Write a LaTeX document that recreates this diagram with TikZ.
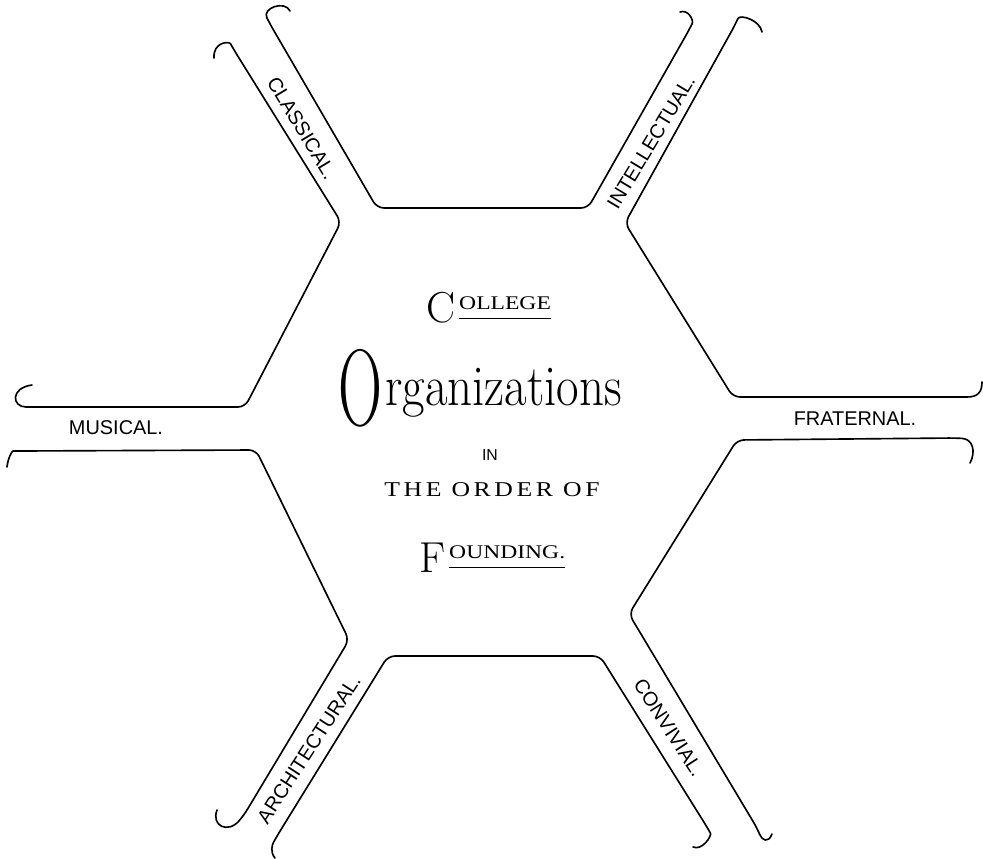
\documentclass[tikz,border=0pt]{standalone}
\usepackage{fontspec}
\usepackage{graphicx}
\newfontfamily\armfont{Liberation Sans}
\newfontfamily\capfont{Liberation Serif}
\newfontfamily\spacedfont[LetterSpace=14]{Liberation Serif}

\begin{document}
\begin{tikzpicture}[
    x=0.3mm, y=-0.3mm,
    wall/.style={line width=1.4pt, line cap=round, line join=round, rounded corners=6pt},
    arm/.style={font=\armfont\fontsize{17}{17}\selectfont, inner sep=0pt},
    head/.style={font=\capfont\fontsize{16.5}{16.5}\selectfont, inner sep=0pt},
    swash/.style={font=\fontsize{37}{37}\selectfont, inner sep=0pt},
    rule/.style={line width=0.6pt}
]
\useasboundingbox (0,0) rectangle (983,859);

% walls of the six channels
\draw[wall] (290,11) .. controls (285,0) and (262,8) .. (270,24)
  -- (377,208) -- (588,208) -- (689,30) .. controls (694,20) and (688,9) .. (680,12);
\draw[wall] (214,58) .. controls (213,42) and (229,41) .. (234,50)
  -- (341,222) -- (245,407) -- (33,407) .. controls (12,407) and (10,388) .. (32,385);
\draw[wall] (762,32) .. controls (760,20) and (740,14) .. (735,25)
  -- (625,223) -- (733,397) -- (960,397) .. controls (978,397) and (982,392) .. (982,382);
\draw[wall] (970,463) .. controls (976,452) and (973,439) .. (955,438)
  -- (737,440) -- (629,614) -- (757,828) .. controls (762,840) and (768,844) .. (772,834);
\draw[wall] (275,858) .. controls (270,852) and (272,845) .. (277,836)
  -- (388,656) -- (600,656) -- (707,827) .. controls (712,836) and (702,851) .. (693,847);
\draw[wall] (217,810) .. controls (211,826) and (228,834) .. (244,815)
  -- (349,640) -- (256,450) -- (20,451) .. controls (12,451) and (8,458) .. (7,467);

% channel names
\node[arm, rotate=-59] (classical) at (302,128) {CLASSICAL.};
\node[arm, rotate=59] (intellectual) at (651,142) {INTELLECTUAL.};
\node[arm] (musical) at (116,428) {MUSICAL.};
\node[arm] (fraternal) at (855,419) {FRATERNAL.};
\node[arm, rotate=-57] (convivial) at (669,728) {CONVIVIAL.};
\node[arm, rotate=57] (architectural) at (309,749) {ARCHITECTURAL.};

% title
\node[swash] (bigc) at (441,308) {C};
\node[head, anchor=base west] (ollege) at (459,309) {\scalebox{1.22}[1]{OLLEGE}};
\draw[rule] ([yshift=-2.7mm]ollege.south west) -- ([yshift=-2.7mm]ollege.south east);
\node[font=\fontsize{93}{93}\selectfont, inner sep=0pt] (bigo) at (360,388) {\scalebox{0.56}[1]{O}};
\node[font=\fontsize{44}{44}\selectfont, inner sep=0pt, anchor=base west] (rganizations) at (385,405) {\scalebox{0.95}[1.12]{rganizations}};
\node[font=\armfont\fontsize{13.5}{13.5}\selectfont, inner sep=0pt] (in) at (490,455) {IN};
\node[font=\spacedfont\fontsize{18}{18}\selectfont, inner sep=0pt] (order) at (492,490) {\scalebox{1.22}[1]{THE ORDER OF}};
\node[swash] (bigf) at (433,558) {F};
\node[head, anchor=base west] (ounding) at (449,558) {\scalebox{1.22}[1]{OUNDING.}};
\draw[rule] ([yshift=-2.7mm]ounding.south west) -- ([yshift=-2.7mm]ounding.south east);
\end{tikzpicture}
\end{document}
